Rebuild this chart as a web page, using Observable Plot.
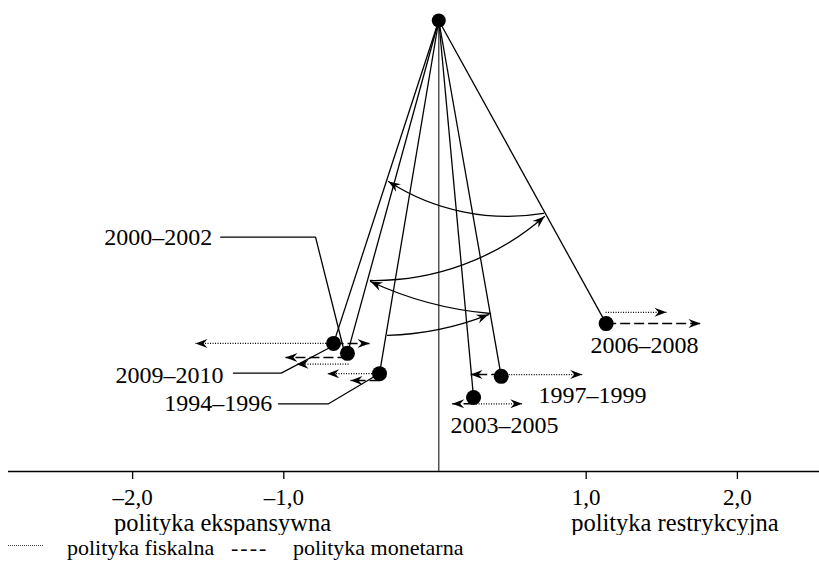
<!DOCTYPE html>
<html>
<head>
<meta charset="utf-8">
<script src="https://cdn.jsdelivr.net/npm/d3@7"></script>
<script src="https://cdn.jsdelivr.net/npm/@observablehq/plot@0.6"></script>
<style>
  body { margin: 0; background: #fff; }
  #chart { width: 819px; }
  .legend { position: relative; width: 819px; height: 33px; font-family: "Liberation Serif", "Times New Roman", serif; font-size: 22px; color: #000; }
  .legend span { position: absolute; top: 2px; line-height: 22px; white-space: nowrap; }
  .legend .dots { top: 10px; left: 8px; width: 35px; height: 0; border-top: 1px dotted #444; }
</style>
</head>
<body>
<div id="chart"></div>
<script>
// ---- data ----
const periods = ["1994–1996", "1997–1999", "2000–2002", "2003–2005", "2006–2008", "2009–2010"];
const pivotX = 0.025, pivotY = 10;
const bobX = [-0.367, 0.438, -0.579, 0.255, 1.132, -0.671];
const bobY = [2.17, 2.11, 2.62, 1.64, 3.28, 2.84];

// fiscal policy shifts (dotted)
const fiscalY    = [2.17, 2.15, 2.38, 1.50, 3.53, 2.84];
const fiscalFrom = [-0.367, 0.438, -0.572, 0.255, 1.128, -0.671];
const fiscalTo   = [-0.713, 0.974, -0.916, 0.577, 1.531, -1.584];
// monetary policy shifts (dashed)
const monetaryY    = [2.02, 2.15, 2.53, 1.50, 3.28, 2.84];
const monetaryFrom = [-0.367, 0.438, -0.579, 0.255, 1.132, -0.671];
const monetaryTo   = [-0.559, 0.235, -0.989, 0.114, 1.756, -0.433];

// period labels
const labelX = [-1.077, 1.042, -1.474, 0.460, 1.386, -1.399];
const labelY = [1.508, 1.685, 5.195, 1.020, 2.794, 2.129];
const labelAnchor = ["end", "middle", "end", "middle", "middle", "end"];

// leader lines
const leaderPeriod = ["2000–2002", "2000–2002", "2000–2002", "2009–2010", "2009–2010", "2009–2010", "1994–1996", "1994–1996", "1994–1996"];
const leaderX = [-1.417, -0.790, -0.605, -1.333, -1.017, -0.691, -1.035, -0.704, -0.367];
const leaderY = [5.195, 5.195, 2.727, 2.180, 2.180, 2.756, 1.501, 1.501, 2.173];

// swing arcs between periods: 1994→1997, 1997→2000, 2000→2006, 2006→2009
const arcX1 = [-0.314, 0.367, -0.427, 0.718];
const arcY1 = [3.02, 3.503, 4.235, 5.721];
const arcX2 = [0.354, -0.427, 0.724, -0.308];
const arcY2 = [3.48, 4.213, 5.654, 6.430];
const arcBend = [-10, 10, -21, 21];

// axis
const xTicks = [-2, -1, 1, 2];
const tickLabels = ["–2,0", "–1,0", "1,0", "2,0"];
const sideLabels = ["polityka ekspansywna", "polityka restrykcyjna"];
const sideX = [-1.405, 1.587];
const sideY = [-1.15, -1.15];

// ---- build ----
const W = 819, H = 535;
const xOpts = {domain: [-2.8208, 2.543], range: [8, 819]};
const yOpts = {domain: [0, 10], range: [471, 20]};
const xs = Plot.scale({x: xOpts});
const ys = Plot.scale({y: yOpts});

const bobs = periods.map((p, i) => ({period: p, x: bobX[i], y: bobY[i]}));
const fiscal = periods.map((p, i) => ({period: p, y: fiscalY[i], x1: fiscalFrom[i], x2: fiscalTo[i]}));
const monetary = periods.map((p, i) => ({period: p, y: monetaryY[i], x1: monetaryFrom[i], x2: monetaryTo[i]}));
const labels = periods.map((p, i) => ({text: p, x: labelX[i], y: labelY[i], anchor: labelAnchor[i]}));
const leaders = leaderPeriod.map((p, i) => ({period: p, x: leaderX[i], y: leaderY[i]}));
const arcs = arcX1.map((d, i) => {
  const px1 = xs.apply(arcX1[i]), py1 = ys.apply(arcY1[i]);
  const px2 = xs.apply(arcX2[i]), py2 = ys.apply(arcY2[i]);
  const ang = Math.atan2(py2 - py1, px2 - px1) * 180 / Math.PI + arcBend[i];
  return {x1: arcX1[i], y1: arcY1[i], x2: arcX2[i], y2: arcY2[i], bend: arcBend[i], rot: ang};
});
const sides = sideLabels.map((t, i) => ({text: t, x: sideX[i], y: sideY[i]}));

// filled "stealth" arrowhead, tip at origin pointing right
const stealth = {
  draw(ctx) {
    ctx.moveTo(0, 0);
    ctx.lineTo(-12, -4.5);
    ctx.lineTo(-8, 0);
    ctx.lineTo(-12, 4.5);
    ctx.closePath();
  }
};

const font = "'Liberation Serif', 'Times New Roman', serif";

// one arrow mark per arc (bend is a constant option)
const arcMarks = arcs.map(a => Plot.arrow([a], {x1: "x1", y1: "y1", x2: "x2", y2: "y2", bend: a.bend, headLength: 0, stroke: "#000", strokeWidth: 1.3}));

const plot = Plot.plot({
  width: W,
  height: H,
  marginLeft: 8,
  marginRight: 0,
  marginTop: 20,
  marginBottom: 64,
  x: {...xOpts, axis: null},
  y: {...yOpts, axis: null},
  style: {fontFamily: font, background: "#fff", color: "#000"},
  marks: [
    Plot.ruleY([0], {stroke: "#000", strokeWidth: 1.5}),
    Plot.axisX({ticks: xTicks, tickFormat: d => tickLabels[xTicks.indexOf(d)], tickSize: 8, tickPadding: 9, fontSize: 23, stroke: "#000", strokeWidth: 1.3}),
    Plot.ruleX([pivotX], {y1: 0, y2: pivotY, stroke: "#3a3a3a", strokeWidth: 1.3}),
    // pendulum strings
    Plot.link(bobs, {x1: pivotX, y1: pivotY, x2: "x", y2: "y", stroke: "#000", strokeWidth: 1.3}),
    // leader lines
    Plot.line(leaders, {x: "x", y: "y", z: "period", stroke: "#000", strokeWidth: 1.3}),
    // swing arcs
    ...arcMarks,
    // policy shift shafts
    Plot.link(fiscal, {x1: "x1", x2: "x2", y1: "y", y2: "y", stroke: "#000", strokeWidth: 1.2, strokeDasharray: "1 1.5"}),
    Plot.link(monetary, {x1: "x1", x2: "x2", y1: "y", y2: "y", stroke: "#000", strokeWidth: 1.5, strokeDasharray: "10 4"}),
    // arrowheads
    Plot.dot(fiscal, {x: "x2", y: "y", symbol: stealth, fill: "#000", stroke: null, rotate: d => d.x2 > d.x1 ? 0 : 180}),
    Plot.dot(monetary, {x: "x2", y: "y", symbol: stealth, fill: "#000", stroke: null, rotate: d => d.x2 > d.x1 ? 0 : 180}),
    Plot.dot(arcs, {x: "x2", y: "y2", symbol: stealth, fill: "#000", stroke: null, rotate: "rot"}),
    // bobs and pivot
    Plot.dot(bobs, {x: "x", y: "y", r: 7.5, fill: "#000", stroke: null}),
    Plot.dot([pivotX], {x: d => d, y: pivotY, r: 7, fill: "#000", stroke: null}),
    // labels
    Plot.text(labels.filter(d => d.anchor === "end"), {x: "x", y: "y", text: "text", textAnchor: "end", fontSize: 24, fill: "#000"}),
    Plot.text(labels.filter(d => d.anchor === "middle"), {x: "x", y: "y", text: "text", textAnchor: "middle", fontSize: 24, fill: "#000"}),
    Plot.text(sides, {x: "x", y: "y", text: "text", textAnchor: "middle", fontSize: 24.5, fill: "#000"})
  ]
});
document.getElementById("chart").appendChild(plot);

const legend = document.createElement("div");
legend.className = "legend";
legend.innerHTML = '<span class="dots"></span>' +
  '<span style="left:67px">polityka fiskalna</span>' +
  '<span style="left:231px;letter-spacing:2px">----</span>' +
  '<span style="left:293px">polityka monetarna</span>';
document.getElementById("chart").appendChild(legend);
</script>
</body>
</html>
